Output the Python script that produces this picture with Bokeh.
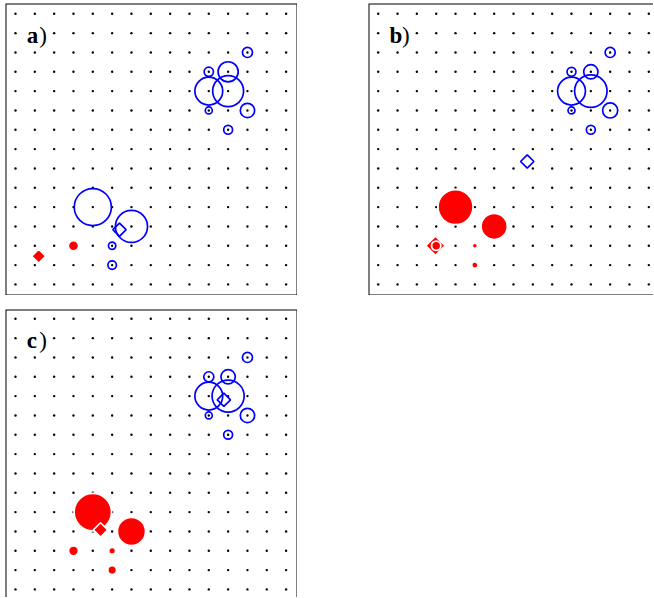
import numpy as np
from bokeh.plotting import figure
from bokeh.models import Spacer, Label
from bokeh.layouts import row, column
from bokeh.embed import file_html
from bokeh.resources import INLINE

# ---------------- data ----------------
grid_vals = list(range(15))

# panel a
a_blue_x = [10, 11, 11, 12, 10, 10, 12, 11, 4, 6, 5, 5]
a_blue_y = [10, 10, 11, 12, 11, 9, 9, 8, 4, 3, 2, 1]
a_blue_r = [0.72, 0.80, 0.52, 0.26, 0.24, 0.18, 0.37, 0.23, 0.96, 0.83, 0.19, 0.22]
a_bdia_x = [5.38]
a_bdia_y = [2.83]
a_red_x = [3]
a_red_y = [2]
a_red_r = [0.27]
a_rdia_x = [1.2]
a_rdia_y = [1.46]

# panel b
b_blue_x = [10, 11, 11, 12, 10, 10, 12, 11]
b_blue_y = [10, 10, 11, 12, 11, 9, 9, 8]
b_blue_r = [0.72, 0.84, 0.37, 0.26, 0.23, 0.18, 0.39, 0.23]
b_bdia_x = [7.71]
b_bdia_y = [6.36]
b_red_x = [4, 6, 5, 5, 3]
b_red_y = [4, 3, 2, 1, 2]
b_red_r = [0.91, 0.68, 0.14, 0.17, 0.24]
b_rdia_x = [2.96]
b_rdia_y = [2.0]

# panel c
c_blue_x = [10, 11, 11, 12, 10, 10, 12, 11]
c_blue_y = [10, 10, 11, 12, 11, 9, 9, 8]
c_blue_r = [0.72, 0.83, 0.37, 0.26, 0.26, 0.18, 0.37, 0.23]
c_bdia_x = [10.78]
c_bdia_y = [9.81]
c_red_x = [4, 6, 3, 5, 5]
c_red_y = [4, 3, 2, 2, 1]
c_red_r = [0.97, 0.73, 0.26, 0.18, 0.23]
c_rdia_x = [4.4]
c_rdia_y = [3.08]

labels = ["a", "b", "c"]

# ---------------- styling / geometry ----------------
S = 19.33          # pixels per grid unit
FULL = 292         # full panel frame size in px
BLUE = "#0000ff"
RED = "#ff0000"


def make_panel(label, width, height, x_start, y_top,
               bx, by, br, bdx, bdy, rx, ry, rr, rdx, rdy,
               rdia_size, red_diamond_on_top):
    x_end = x_start + width / S
    y_bot = y_top - height / S
    p = figure(width=width, height=height, x_range=(x_start, x_end),
               y_range=(y_bot, y_top), toolbar_location=None,
               output_backend="svg", x_axis_location=None,
               y_axis_location=None, min_border=0,
               outline_line_color=None, background_fill_color="white",
               border_fill_color="white")
    p.grid.visible = False

    # panel frame (full panel, clipped where it leaves the window)
    p.quad(left=[x_start], right=[x_start + FULL / S],
           top=[y_top], bottom=[y_top - FULL / S],
           fill_color=None, line_color="black", line_width=2)

    gx, gy = np.meshgrid(grid_vals, grid_vals)
    p.scatter(gx.ravel(), gy.ravel(), size=2.4, color="black",
              line_color=None)

    p.circle(bx, by, radius=br, fill_color=None, line_color=BLUE,
             line_width=1.7)
    p.scatter(bdx, bdy, marker="square", angle=np.pi / 4, size=9.4,
              fill_color=None, line_color=BLUE, line_width=1.7)

    def red_dia():
        p.scatter(rdx, rdy, marker="square", angle=np.pi / 4, size=rdia_size,
                  fill_color=RED, line_color="white", line_width=1.5)

    if not red_diamond_on_top:
        red_dia()
    p.circle(rx, ry, radius=rr, fill_color=RED, line_color="white",
             line_width=1.8)
    if red_diamond_on_top:
        red_dia()

    p.add_layout(Label(x=0.58, y=12.9, text=label, text_font="Liberation Serif",
                       text_font_style="bold", text_font_size="23px",
                       text_baseline="alphabetic", text_color="black"))
    p.add_layout(Label(x=0.58 + 12.5 / S, y=12.9, text=")",
                       text_font="Liberation Serif", text_font_size="23px",
                       text_baseline="alphabetic", text_color="black"))
    return p


pa = make_panel(labels[0], 292, 292, -0.517, 14.533,
                a_blue_x, a_blue_y, a_blue_r, a_bdia_x, a_bdia_y,
                a_red_x, a_red_y, a_red_r, a_rdia_x, a_rdia_y, 9.8, True)
pb = make_panel(labels[1], 285, 292, -0.502, 14.533,
                b_blue_x, b_blue_y, b_blue_r, b_bdia_x, b_bdia_y,
                b_red_x, b_red_y, b_red_r, b_rdia_x, b_rdia_y, 13.5, False)
pc = make_panel(labels[2], 292, 288, -0.517, 14.481,
                c_blue_x, c_blue_y, c_blue_r, c_bdia_x, c_bdia_y,
                c_red_x, c_red_y, c_red_r, c_rdia_x, c_rdia_y, 10.2, True)

root = column(row(pa, Spacer(width=71, height=292), pb),
              Spacer(width=10, height=14), pc,
              styles={"margin-left": "5px", "margin-top": "3px"})

open("out.html", "w").write(file_html(root, INLINE))
